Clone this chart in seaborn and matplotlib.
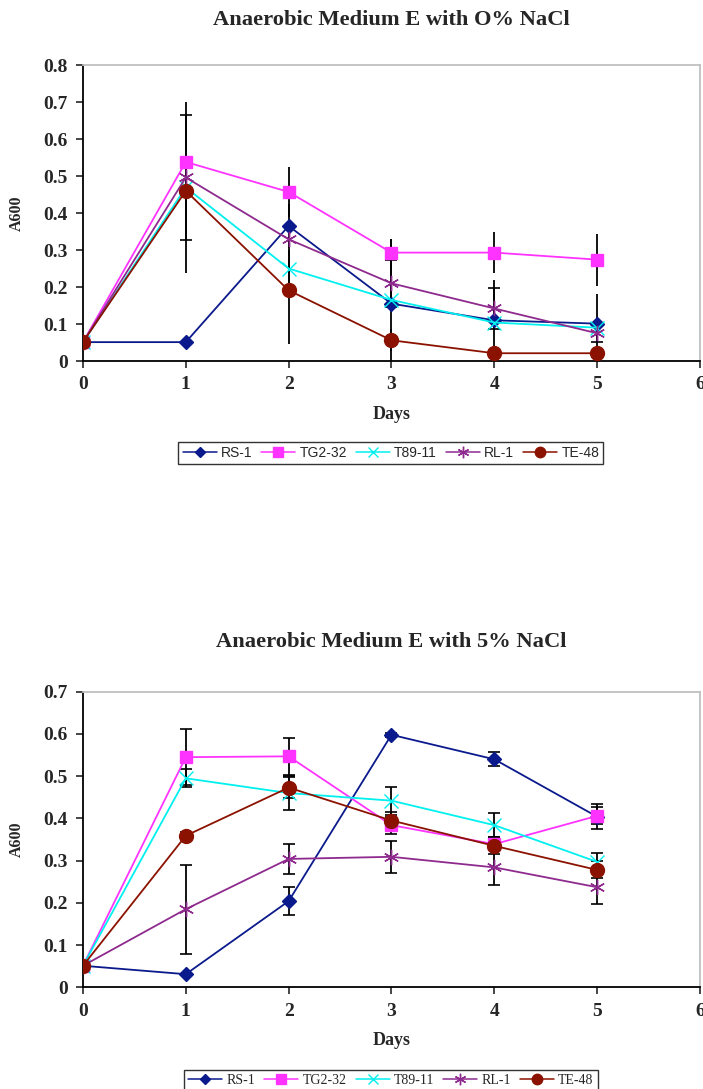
import numpy as np
import pandas as pd
import matplotlib
matplotlib.use("Agg")
import matplotlib.pyplot as plt
import seaborn as sns

# ---- data -------------------------------------------------------------
days = [0, 1, 2, 3, 4, 5]
strains = ["RS-1", "TG2-32", "T89-11", "RL-1", "TE-48"]

# 0% NaCl
nacl0_rs1 = [0.051, 0.051, 0.365, 0.155, 0.110, 0.101]
nacl0_tg2 = [0.051, 0.538, 0.457, 0.293, 0.293, 0.274]
nacl0_t89 = [0.051, 0.469, 0.250, 0.165, 0.104, 0.090]
nacl0_rl1 = [0.051, 0.496, 0.329, 0.210, 0.142, 0.075]
nacl0_te48 = [0.051, 0.460, 0.191, 0.056, 0.021, 0.021]

nacl0_rs1_err = [0, 0, 0.060, 0, 0.110, 0.080]
nacl0_tg2_err = [0, 0, 0.068, 0.036, 0.055, 0.070]
nacl0_t89_err = [0, 0.230, 0.050, 0.165, 0, 0]
nacl0_rl1_err = [0, 0.170, 0, 0.063, 0.055, 0.023]
nacl0_te48_err = [0, 0, 0.145, 0.030, 0, 0]

# 5% NaCl
nacl5_rs1 = [0.051, 0.031, 0.204, 0.598, 0.540, 0.404]
nacl5_tg2 = [0.051, 0.545, 0.547, 0.384, 0.339, 0.406]
nacl5_t89 = [0.051, 0.495, 0.460, 0.442, 0.384, 0.297]
nacl5_rl1 = [0.051, 0.185, 0.304, 0.309, 0.284, 0.237]
nacl5_te48 = [0.051, 0.359, 0.473, 0.395, 0.335, 0.278]

nacl5_rs1_err = [0, 0, 0.033, 0.005, 0.017, 0.030]
nacl5_tg2_err = [0, 0.067, 0.044, 0.020, 0.015, 0.020]
nacl5_t89_err = [0, 0.021, 0.040, 0.033, 0.028, 0.022]
nacl5_rl1_err = [0, 0.105, 0.035, 0.038, 0.042, 0.040]
nacl5_te48_err = [0, 0.008, 0.025, 0.020, 0.020, 0.020]

titles = ["Anaerobic Medium E with O% NaCl", "Anaerobic Medium E with 5% NaCl"]
x_ticks = [0, 1, 2, 3, 4, 5, 6]
y_ticks_top = [0, 0.1, 0.2, 0.3, 0.4, 0.5, 0.6, 0.7, 0.8]
y_ticks_bottom = [0, 0.1, 0.2, 0.3, 0.4, 0.5, 0.6, 0.7]

# ---- styling ----------------------------------------------------------
palette = {"RS-1": "#0a1a8c", "TG2-32": "#ff33ff", "T89-11": "#00f0f0",
           "RL-1": "#8e2a8e", "TE-48": "#8b1200"}
markers = {"RS-1": "D", "TG2-32": "s", "T89-11": "x", "RL-1": (6, 2, 0), "TE-48": "o"}
msizes = {"RS-1": 7, "TG2-32": 9, "T89-11": 10, "RL-1": 11, "TE-48": 10}

sns.set_style("ticks")
plt.rcParams["font.family"] = ["Liberation Serif", "DejaVu Serif"]


def draw_panel(ax, series, errors, yticks, title, capped, title_pad):
    for name, vals, err in zip(strains, series, errors):
        df = pd.DataFrame({"Days": days, "A600": vals})
        sns.lineplot(data=df, x="Days", y="A600", color=palette[name],
                     marker=markers[name], markersize=msizes[name],
                     markeredgecolor=palette[name],
                     markeredgewidth=1.0, linewidth=1.3, ax=ax, zorder=3)
        d = np.array(days)
        v = np.array(vals)
        e = np.array(err)
        m = e > 0
        ax.errorbar(d[m], v[m], yerr=e[m], fmt="none", ecolor="black",
                    elinewidth=1.3, capsize=4 if capped(name) else 0,
                    capthick=1.2, zorder=2)
    ax.set_xlim(0, 6)
    ax.set_ylim(0, yticks[-1])
    ax.set_xticks(x_ticks)
    ax.set_yticks(yticks)
    ax.set_xticklabels([str(t) for t in x_ticks])
    ax.set_yticklabels(["0" if t == 0 else f"{t:.1f}" for t in yticks])
    ax.tick_params(axis="both", direction="out", length=5, width=1.2,
                   labelsize=14, pad=6)
    for lab in ax.get_xticklabels() + ax.get_yticklabels():
        lab.set_fontweight("bold")
    ax.set_xlabel("Days", fontsize=13, fontweight="bold", labelpad=9)
    ax.set_ylabel("A600", fontsize=11.5, fontweight="bold", labelpad=13)
    for s in ("left", "bottom"):
        ax.spines[s].set_color("black")
        ax.spines[s].set_linewidth(1.3)
    for s in ("top", "right"):
        ax.spines[s].set_visible(True)
        ax.spines[s].set_color("#c0c0c0")
        ax.spines[s].set_linewidth(1.3)
    ax.set_title(title, fontsize=16.2, fontweight="bold", pad=title_pad)


fig = plt.figure(figsize=(7.03, 10.89), dpi=100)
ax1 = fig.add_axes([0.118, 0.6685, 0.8777, 0.2718])
ax2 = fig.add_axes([0.118, 0.0934, 0.8777, 0.2714])

draw_panel(ax1,
           [nacl0_rs1, nacl0_tg2, nacl0_t89, nacl0_rl1, nacl0_te48],
           [nacl0_rs1_err, nacl0_tg2_err, nacl0_t89_err, nacl0_rl1_err, nacl0_te48_err],
           y_ticks_top, titles[0], capped=lambda n: n == "RL-1", title_pad=29)
draw_panel(ax2,
           [nacl5_rs1, nacl5_tg2, nacl5_t89, nacl5_rl1, nacl5_te48],
           [nacl5_rs1_err, nacl5_tg2_err, nacl5_t89_err, nacl5_rl1_err, nacl5_te48_err],
           y_ticks_bottom, titles[1], capped=lambda n: True, title_pad=32)


def legend_handles():
    hs = []
    for name in strains:
        h, = plt.plot([], [], color=palette[name], marker=markers[name],
                      markersize=msizes[name] * 0.75, markeredgecolor=palette[name],
                      linewidth=1.1)
        hs.append(h)
    return hs


leg_kw = dict(ncol=5, frameon=True, fancybox=False, handlelength=2.45,
              handletextpad=0.3, columnspacing=0.65, borderpad=0.3,
              edgecolor="black")
lg1 = fig.legend(legend_handles(), strains, loc="center",
                 bbox_to_anchor=(0.556, 0.584),
                 prop={"family": "Liberation Sans", "size": 10}, **leg_kw)
lg2 = fig.legend(legend_handles(), strains, loc="center",
                 bbox_to_anchor=(0.556, 0.008),
                 prop={"family": "Liberation Serif", "size": 10}, **leg_kw)
for lg in (lg1, lg2):
    lg.get_frame().set_linewidth(1.0)

fig.savefig("out.png", dpi=100)
